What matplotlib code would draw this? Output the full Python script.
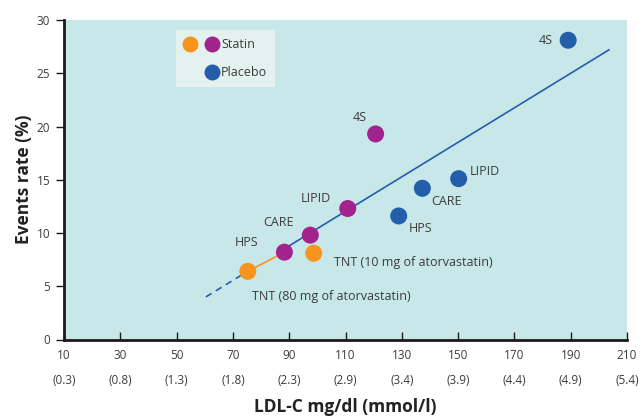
import matplotlib
matplotlib.use("Agg")
import matplotlib.pyplot as plt
from matplotlib.lines import Line2D
import matplotlib.transforms as mtransforms

plt.rcParams['font.family'] = ['Open Sans', 'DejaVu Sans']

# placebo arms (blue)
placebo_names = ['4S', 'LIPID', 'CARE', 'HPS']
placebo_ldl = [189.1, 150.2, 137.3, 128.9]
placebo_rate = [28.1, 15.1, 14.2, 11.6]

# statin arms (purple)
statin_names = ['4S', 'LIPID', 'CARE', 'HPS']
statin_ldl = [120.7, 110.8, 97.5, 88.3]
statin_rate = [19.3, 12.3, 9.8, 8.2]

# TNT arms (orange)
tnt_names = ['TNT (10 mg of atorvastatin)', 'TNT (80 mg of atorvastatin)']
tnt_ldl = [98.7, 75.3]
tnt_rate = [8.1, 6.4]

# regression line
fit_x = [60.4, 203.6]
fit_y = [4.0, 27.2]

xticks = [10, 30, 50, 70, 90, 110, 130, 150, 170, 190, 210]
mmol = ['(0.3)', '(0.8)', '(1.3)', '(1.8)', '(2.3)', '(2.9)', '(3.4)', '(3.9)', '(4.4)', '(4.9)', '(5.4)']

c_blue = '#245eab'
c_purple = '#a3238e'
c_orange = '#f7941d'
c_text = '#3c3c3c'

def fit(x):
    return fit_y[0] + (fit_y[1] - fit_y[0]) * (x - fit_x[0]) / (fit_x[1] - fit_x[0])

fig = plt.figure(figsize=(6.41, 4.2), dpi=100)
ax = fig.add_axes([64/641, 80.5/420, 563/641, 319.5/420])
ax.set_facecolor('#c8e7e8')
ax.set_xlim(10, 210)
ax.set_ylim(0, 30)

# dashed part, orange link, solid part
ax.plot([fit_x[0], tnt_ldl[1]], [fit(fit_x[0]), fit(tnt_ldl[1])], color=c_blue, lw=1.2, ls=(0, (4, 3)), zorder=2)
ax.plot([tnt_ldl[1], statin_ldl[3]], [tnt_rate[1], statin_rate[3]], color=c_orange, lw=1.2, zorder=2)
ax.plot([statin_ldl[3], fit_x[1]], [fit(statin_ldl[3]), fit_y[1]], color=c_blue, lw=1.2, zorder=2)

ms = 150
ax.scatter(placebo_ldl, placebo_rate, s=ms, color=c_blue, edgecolor='none', zorder=3)
ax.scatter(statin_ldl, statin_rate, s=ms, color=c_purple, edgecolor='none', zorder=3)
ax.scatter(tnt_ldl, tnt_rate, s=ms, color=c_orange, edgecolor='none', zorder=3)

fs = 9
placebo_off = [(-15, 0, 'right'), (11, 7, 'left'), (24, -13, 'center'), (22, -13, 'center')]
statin_off = [(-16, 16, 'center'), (-32, 10, 'center'), (-32, 13, 'center'), (-38, 10, 'center')]
tnt_off = [(20, -9, 'left'), (4, -25, 'left')]
for names, xs, ys, offs in [(placebo_names, placebo_ldl, placebo_rate, placebo_off),
                            (statin_names, statin_ldl, statin_rate, statin_off),
                            (tnt_names, tnt_ldl, tnt_rate, tnt_off)]:
    for n, x, y, o in zip(names, xs, ys, offs):
        ax.annotate(n, (x, y), xytext=(o[0], o[1]), textcoords='offset pixels',
                    ha=o[2], va='center', fontsize=fs, color=c_text)

# legend box
leg_bg = plt.Rectangle((176/641, 1 - 87/420), 99/641, 57/420, transform=fig.transFigure,
                       facecolor='#e3f2ee', edgecolor='none', zorder=1)
fig.patches.append(leg_bg)
for px, py, c in [(190, 44, c_orange), (212, 44, c_purple), (212, 72, c_blue)]:
    fig.add_artist(Line2D([px/641], [1 - py/420], marker='o', markersize=11.5, color=c,
                          markeredgecolor='none', transform=fig.transFigure))
fig.text(221/641, 1 - 44/420, 'Statin', fontsize=fs, color=c_text, va='center')
fig.text(221/641, 1 - 72/420, 'Placebo', fontsize=fs, color=c_text, va='center')

for s in ['top', 'right']:
    ax.spines[s].set_visible(False)
for s in ['left', 'bottom']:
    ax.spines[s].set_linewidth(2)
    ax.spines[s].set_color('#1a1a1a')

ax.set_xticks(xticks)
ax.set_yticks(range(0, 31, 5))
ax.tick_params(direction='in', length=6, width=1, color='#1a1a1a', labelsize=8.5, labelcolor=c_text, pad=7)
ax.tick_params(axis='y', direction='out', length=6, pad=4)

# second row of x labels in mmol/l
trans = mtransforms.blended_transform_factory(ax.transData, ax.transAxes)
for t, m in zip(xticks, mmol):
    ax.text(t, -40.5/319.5, m, transform=trans, ha='center', va='center',
            fontsize=8.5, color=c_text, clip_on=False)

ax.set_ylabel('Events rate (%)', fontsize=12.5, fontweight='bold', color='#222222')
ax.yaxis.set_label_coords(-31/563, 0.5)
ax.set_xlabel('LDL-C mg/dl (mmol/l)', fontsize=12.5, fontweight='bold', color='#222222')
ax.xaxis.set_label_coords(0.5, -59/319.5)

fig.savefig('out.png', dpi=100)
